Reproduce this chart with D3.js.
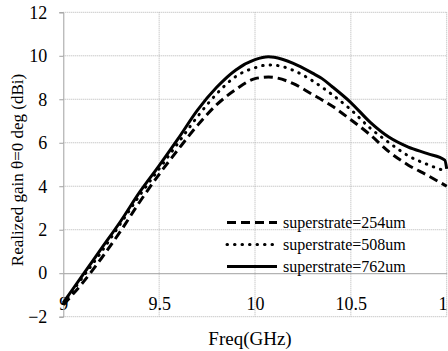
<!DOCTYPE html>
<html>
<head>
<meta charset="utf-8">
<script src="https://cdn.jsdelivr.net/npm/d3@7"></script>
<style>
  body { margin: 0; background: #fff; }
  svg { display: block; }
  text { font-family: 'Liberation Serif', 'DejaVu Serif', 'Times New Roman', Times, serif; fill: #000; }
</style>
</head>
<body>
<svg id="chart" width="448" height="351"></svg>
<script>
// data
const freq = [9.0, 9.1, 9.2, 9.3, 9.4, 9.5, 9.6, 9.7, 9.8, 9.9, 10.0, 10.07, 10.1, 10.2, 10.3, 10.35, 10.4, 10.5, 10.6, 10.7, 10.8, 10.9, 10.99, 11.0];
const gain254 = [-1.45, -0.45, 0.7, 1.95, 3.3, 4.55, 5.7, 6.8, 7.75, 8.45, 8.95, 9.02, 9.0, 8.72, 8.22, 7.97, 7.7, 7.06, 6.37, 5.58, 4.97, 4.5, 4.05, 4.0];
const gain508 = [-1.4, -0.2, 1.0, 2.3, 3.6, 4.8, 6.0, 7.2, 8.25, 9.05, 9.45, 9.58, 9.57, 9.33, 8.85, 8.55, 8.23, 7.52, 6.68, 6.0, 5.4, 5.0, 4.72, 4.7];
const gain762 = [-1.35, -0.1, 1.15, 2.4, 3.75, 4.95, 6.2, 7.5, 8.55, 9.35, 9.82, 9.95, 9.93, 9.65, 9.2, 8.95, 8.6, 7.85, 6.95, 6.25, 5.8, 5.5, 5.2, 4.8];
const seriesNames = ['superstrate=254um', 'superstrate=508um', 'superstrate=762um'];
const xTicks = [9, 9.5, 10, 10.5, 11];
const yTicks = [-2, 0, 2, 4, 6, 8, 10, 12];

const serif = "'Liberation Serif', 'DejaVu Serif', 'Times New Roman', Times, serif";

const svg = d3.select('#chart');

const x = d3.scaleLinear().domain([9, 11]).range([63.3, 446.7]);
const y = d3.scaleLinear().domain([-2, 12]).range([316.7, 12.3]);

// gridlines
svg.append('g')
  .selectAll('line')
  .data(yTicks.filter(d => d !== 0))
  .enter()
  .append('line')
  .attr('x1', x(9)).attr('x2', x(11))
  .attr('y1', d => y(d)).attr('y2', d => y(d))
  .attr('stroke', '#b4b4b4')
  .attr('stroke-dasharray', '1,1');

svg.append('g')
  .selectAll('line')
  .data(xTicks.filter(d => d !== 9))
  .enter()
  .append('line')
  .attr('x1', d => x(d)).attr('x2', d => x(d))
  .attr('y1', y(12)).attr('y2', y(-2))
  .attr('stroke', '#b4b4b4')
  .attr('stroke-dasharray', '1,1');

// axes
const yAxis = g => g
  .attr('transform', `translate(${x(9)},0)`)
  .attr('font-family', serif)
  .call(d3.axisLeft(y).tickValues(yTicks).tickSize(4).tickFormat(d3.format('d')))
  .call(g => g.select('.domain').attr('stroke', '#a0a0a0'))
  .call(g => g.selectAll('.tick line').attr('stroke', '#a0a0a0'))
  .call(g => g.selectAll('.tick text')
    .attr('x', -16)
    .style('font-family', serif)
    .style('font-size', '18px'));

const xAxis = g => g
  .attr('transform', `translate(0,${y(0)})`)
  .attr('font-family', serif)
  .call(d3.axisBottom(x).tickValues(xTicks).tickSize(0).tickFormat(d => d))
  .call(g => g.select('.domain').attr('stroke', '#a0a0a0'))
  .call(g => g.selectAll('.tick text')
    .attr('y', 24)
    .style('font-family', serif)
    .style('font-size', '18px'));

svg.append('g').call(xAxis);
svg.append('g').call(yAxis);

// series
const styles = [
  { data: gain254, dash: '9,5', cap: 'butt' },
  { data: gain508, dash: '0.5,7', cap: 'round' },
  { data: gain762, dash: null, cap: 'butt' }
];

const line = d3.line()
  .x(d => x(d[0]))
  .y(d => y(d[1]))
  .curve(d3.curveMonotoneX);

styles.forEach(s => {
  svg.append('path')
    .datum(freq.map((f, i) => [f, s.data[i]]))
    .attr('d', line)
    .attr('fill', 'none')
    .attr('stroke', '#000')
    .attr('stroke-width', 3)
    .attr('stroke-linecap', s.cap)
    .attr('stroke-dasharray', s.dash);
});

// legend
const legend = svg.append('g');
styles.forEach((s, i) => {
  const cy = 222.5 + i * 22;
  legend.append('line')
    .attr('x1', 227).attr('x2', 277)
    .attr('y1', cy).attr('y2', cy)
    .attr('stroke', '#000')
    .attr('stroke-width', 3)
    .attr('stroke-linecap', s.cap)
    .attr('stroke-dasharray', s.dash);
  legend.append('text')
    .attr('x', 283)
    .attr('y', cy + 5)
    .style('font-family', serif)
    .style('font-size', '16px')
    .text(seriesNames[i]);
});

// titles
svg.append('text')
  .attr('x', 250)
  .attr('y', 345)
  .attr('text-anchor', 'middle')
  .style('font-family', serif)
  .style('font-size', '19px')
  .text('Freq(GHz)');

svg.append('text')
  .attr('transform', 'translate(23,170) rotate(-90)')
  .attr('text-anchor', 'middle')
  .style('font-family', serif)
  .style('font-size', '17px')
  .text('Realized gain θ=0 deg (dBi)');
</script>
</body>
</html>
